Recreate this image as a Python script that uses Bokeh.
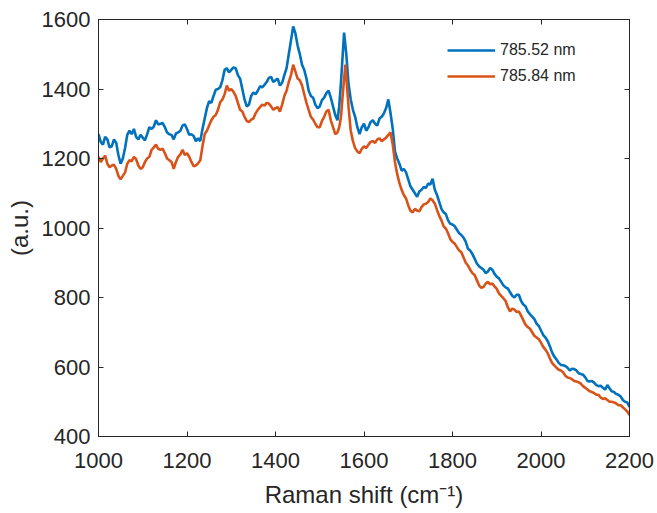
from bokeh.plotting import figure
from bokeh.models import LinearAxis, Legend, LegendItem, Range1d, FixedTicker, ColumnDataSource
from bokeh.embed import file_html
from bokeh.resources import INLINE

# Raman shift (cm^-1) and intensity (a.u.)
# --- 785.52 nm : coarse readings ---
x_52 = [1000, 1010, 1020, 1030, 1040, 1050, 1060, 1070, 1080, 1090,
        1100, 1110, 1120, 1130, 1140, 1150, 1160, 1170, 1180, 1190,
        1200, 1210, 1220, 1230, 1240, 1250, 1260, 1270, 1280, 1290,
        1300, 1310, 1320, 1330, 1340, 1350, 1360, 1370, 1380, 1390,
        1400, 1410, 1420, 1430, 1440, 1450, 1460, 1470, 1480, 1490,
        1500, 1510, 1520, 1530, 1540, 1548, 1555, 1560, 1565, 1570,
        1580, 1590, 1600, 1610, 1620, 1630, 1640, 1650, 1655, 1660,
        1670, 1680, 1690, 1700, 1710, 1720, 1730, 1740, 1750, 1755,
        1760, 1770, 1780, 1790, 1800, 1810, 1820, 1830, 1840, 1850,
        1860, 1870, 1880, 1890, 1900, 1910, 1920, 1930, 1940, 1950,
        1960, 1970, 1980, 1990, 2000, 2010, 2020, 2030, 2040, 2050,
        2060, 2070, 2080, 2090, 2100, 2110, 2120, 2130, 2140, 2150,
        2160, 2170, 2180, 2190, 2200]
y_52 = [1270, 1240, 1255, 1235, 1245, 1185, 1230, 1280, 1285, 1255,
        1260, 1270, 1285, 1310, 1300, 1290, 1270, 1255, 1275, 1295,
        1285, 1270, 1250, 1250, 1315, 1365, 1380, 1400, 1425, 1460,
        1455, 1460, 1430, 1370, 1355, 1390, 1395, 1405, 1420, 1435,
        1425, 1410, 1440, 1500, 1580, 1525, 1470, 1430, 1380, 1355,
        1350, 1375, 1395, 1350, 1310, 1420, 1562, 1500, 1415, 1370,
        1320, 1270, 1300, 1290, 1310, 1295, 1320, 1345, 1370, 1330,
        1220, 1185, 1170, 1140, 1110, 1090, 1110, 1115, 1125, 1142,
        1110, 1075, 1045, 1022, 1010, 995, 980, 960, 935, 912,
        890, 880, 875, 880, 860, 845, 829, 815, 800, 808,
        780, 760, 745, 725, 705, 685, 660, 630, 612, 605,
        598, 595, 590, 580, 570, 558, 555, 545, 540, 548,
        530, 522, 515, 500, 485]
# --- 785.52 nm : in-between readings (noise) ---
x_52b = [1005, 1015, 1025, 1035, 1045, 1055, 1065, 1075, 1085, 1095,
         1105, 1115, 1125, 1135, 1145, 1155, 1165, 1175, 1185, 1195,
         1205, 1215, 1225, 1235, 1245, 1255, 1265, 1275, 1285, 1295,
         1305, 1315, 1325, 1335, 1345, 1355, 1365, 1375, 1385, 1395,
         1405, 1415, 1425, 1435, 1445, 1455, 1465, 1475, 1485, 1495,
         1505, 1515, 1525, 1535, 1544, 1575, 1585, 1595, 1605, 1615,
         1625, 1635, 1645, 1665, 1675, 1685, 1695, 1705, 1715, 1725,
         1735, 1745, 1765, 1775, 1785, 1795, 1805, 1815, 1825, 1835,
         1845, 1855, 1865, 1875, 1885, 1895, 1905, 1915, 1925, 1935,
         1945, 1955, 1965, 1975, 1985, 1995, 2005, 2015, 2025, 2035,
         2045, 2055, 2065, 2075, 2085, 2095, 2105, 2115, 2125, 2135,
         2145, 2155, 2165, 2175, 2185, 2195]
y_52b = [1248, 1262, 1232, 1255, 1210, 1200, 1268, 1270, 1262, 1268,
         1252, 1290, 1292, 1298, 1302, 1275, 1268, 1272, 1280, 1298,
         1268, 1265, 1258, 1285, 1345, 1360, 1398, 1405, 1455, 1448,
         1462, 1440, 1400, 1350, 1380, 1385, 1408, 1412, 1432, 1420,
         1430, 1418, 1460, 1540, 1560, 1500, 1455, 1395, 1375, 1345,
         1368, 1388, 1375, 1325, 1350, 1340, 1290, 1290, 1280, 1305,
         1300, 1315, 1330, 1285, 1200, 1165, 1160, 1120, 1100, 1105,
         1118, 1128, 1095, 1055, 1040, 1012, 1005, 985, 972, 940,
         925, 898, 885, 870, 885, 868, 855, 835, 826, 805,
         808, 790, 775, 752, 738, 718, 692, 675, 642, 622,
         606, 603, 590, 594, 582, 578, 560, 560, 548, 546,
         535, 538, 528, 520, 505, 498]

# --- 785.84 nm : coarse readings ---
x_84 = [1000, 1010, 1020, 1030, 1040, 1050, 1060, 1070, 1080, 1090,
        1100, 1110, 1120, 1130, 1140, 1150, 1160, 1170, 1180, 1190,
        1200, 1210, 1220, 1230, 1240, 1250, 1260, 1270, 1280, 1290,
        1300, 1310, 1320, 1330, 1340, 1350, 1360, 1370, 1380, 1390,
        1400, 1410, 1420, 1430, 1440, 1450, 1460, 1470, 1480, 1490,
        1500, 1510, 1520, 1530, 1540, 1548, 1558, 1565, 1570,
        1580, 1590, 1600, 1610, 1620, 1630, 1640, 1650, 1660,
        1670, 1680, 1690, 1700, 1710, 1720, 1730, 1740, 1750,
        1760, 1770, 1780, 1790, 1800, 1810, 1820, 1830, 1840, 1850,
        1860, 1870, 1880, 1890, 1900, 1910, 1920, 1930, 1940, 1950,
        1960, 1970, 1980, 1990, 2000, 2010, 2020, 2030, 2040, 2050,
        2060, 2070, 2080, 2090, 2100, 2110, 2120, 2130, 2140, 2150,
        2160, 2170, 2180, 2190, 2200]
y_84 = [1205, 1200, 1185, 1180, 1170, 1140, 1160, 1195, 1205, 1180,
        1175, 1200, 1225, 1240, 1225, 1215, 1195, 1170, 1205, 1225,
        1215, 1190, 1180, 1195, 1270, 1295, 1320, 1340, 1370, 1410,
        1400, 1380, 1340, 1320, 1305, 1315, 1340, 1355, 1360, 1350,
        1345, 1335, 1380, 1420, 1470, 1430, 1410, 1360, 1320, 1300,
        1290, 1320, 1340, 1290, 1275, 1320, 1470, 1350, 1280,
        1230, 1215, 1235, 1240, 1250, 1255, 1250, 1260, 1275,
        1190, 1130, 1095, 1065, 1045, 1050, 1060, 1070, 1085,
        1070, 1035, 1005, 985, 960, 945, 930, 900, 880, 865,
        835, 830, 845, 840, 825, 805, 790, 760, 765, 760,
        735, 715, 700, 685, 670, 650, 625, 605, 592, 585,
        570, 565, 558, 552, 540, 530, 525, 520, 508, 505,
        500, 495, 490, 478, 462]
# --- 785.84 nm : in-between readings (noise) ---
x_84b = [1005, 1015, 1025, 1035, 1045, 1055, 1065, 1075, 1085, 1095,
         1105, 1115, 1125, 1135, 1145, 1155, 1165, 1175, 1185, 1195,
         1205, 1215, 1225, 1235, 1245, 1255, 1265, 1275, 1285, 1295,
         1305, 1315, 1325, 1335, 1345, 1355, 1365, 1375, 1385, 1395,
         1405, 1415, 1425, 1435, 1445, 1455, 1465, 1475, 1485, 1495,
         1505, 1515, 1525, 1535, 1544, 1553, 1575, 1585, 1595, 1605,
         1615, 1625, 1635, 1645, 1655, 1665, 1675, 1685, 1695, 1705,
         1715, 1725, 1735, 1745, 1755, 1765, 1775, 1785, 1795, 1805,
         1815, 1825, 1835, 1845, 1855, 1865, 1875, 1885, 1895, 1905,
         1915, 1925, 1935, 1945, 1955, 1965, 1975, 1985, 1995, 2005,
         2015, 2025, 2035, 2045, 2055, 2065, 2075, 2085, 2095, 2105,
         2115, 2125, 2135, 2145, 2155, 2165, 2175, 2185, 2195]
y_84b = [1190, 1208, 1175, 1182, 1150, 1150, 1185, 1192, 1198, 1170,
         1190, 1205, 1232, 1228, 1228, 1200, 1190, 1190, 1212, 1210,
         1205, 1178, 1186, 1235, 1280, 1310, 1325, 1362, 1385, 1395,
         1392, 1360, 1335, 1308, 1312, 1330, 1348, 1352, 1358, 1340,
         1348, 1355, 1395, 1440, 1450, 1425, 1385, 1340, 1312, 1290,
         1308, 1335, 1310, 1270, 1290, 1400, 1250, 1220, 1228, 1230,
         1248, 1245, 1258, 1255, 1268, 1240, 1155, 1110, 1085, 1050,
         1055, 1048, 1068, 1075, 1080, 1052, 1022, 998, 968, 955,
         935, 915, 892, 870, 850, 828, 840, 838, 832, 812,
         798, 772, 768, 758, 748, 722, 710, 690, 680, 658,
         640, 612, 598, 590, 575, 568, 560, 556, 545, 535,
         528, 520, 512, 510, 500, 498, 490, 484, 472]

x_ticks = [1000, 1200, 1400, 1600, 1800, 2000, 2200]
y_ticks = [400, 600, 800, 1000, 1200, 1400, 1600]
series_names = ["785.52 nm", "785.84 nm"]
colors = ["#0072BD", "#D95319"]

FONT = "Liberation Sans"
TXT = "#262626"


def merged(xa, ya, xb, yb):
    pts = sorted(zip(list(xa) + list(xb), list(ya) + list(yb)))
    return ColumnDataSource(data=dict(x=[q[0] for q in pts], y=[q[1] for q in pts]))


p = figure(width=657, height=513, output_backend="svg", toolbar_location=None,
           x_range=Range1d(1000, 2200), y_range=Range1d(400, 1600),
           x_axis_location=None, y_axis_location=None,
           min_border_left=98, min_border_right=28, min_border_top=19,
           min_border_bottom=77)
p.grid.visible = False
p.outline_line_color = TXT
p.outline_line_width = 1

r1 = p.line("x", "y", source=merged(x_52, y_52, x_52b, y_52b),
            line_color=colors[0], line_width=2.6)
r2 = p.line("x", "y", source=merged(x_84, y_84, x_84b, y_84b),
            line_color=colors[1], line_width=2.6)

bottom = LinearAxis(ticker=FixedTicker(ticks=x_ticks))
left = LinearAxis(ticker=FixedTicker(ticks=y_ticks))
top = LinearAxis(ticker=FixedTicker(ticks=x_ticks),
                 major_label_overrides={t: "" for t in x_ticks})
right = LinearAxis(ticker=FixedTicker(ticks=y_ticks),
                   major_label_overrides={t: "" for t in y_ticks})

for ax in (bottom, left, top, right):
    ax.major_tick_in = 5
    ax.major_tick_out = 0
    ax.minor_tick_line_color = None
    ax.axis_line_color = TXT
    ax.major_tick_line_color = TXT
    ax.major_label_text_font = FONT
    ax.major_label_text_color = TXT
    ax.major_label_text_font_size = "22px"
    ax.axis_label_text_font = FONT
    ax.axis_label_text_color = TXT
    ax.axis_label_text_font_style = "normal"
    ax.axis_label_text_font_size = "24px"
for ax in (top, right):
    ax.major_label_standoff = 0

bottom.axis_label = "Raman shift (cm⁻¹)"
bottom.major_label_standoff = 16
bottom.axis_label_standoff = 10
left.axis_label = "(a.u.)"
left.major_label_standoff = 8
left.axis_label_standoff = 6

p.add_layout(bottom, "below")
p.add_layout(left, "left")
p.add_layout(top, "above")
p.add_layout(right, "right")

legend = Legend(items=[LegendItem(label=series_names[0], renderers=[r1]),
                       LegendItem(label=series_names[1], renderers=[r2])],
                location=(349, 350), padding=0, margin=0, spacing=6,
                glyph_width=48, glyph_height=20, label_height=20,
                label_standoff=5, label_text_font=FONT, label_text_color=TXT,
                label_text_font_size="16px", border_line_color=None,
                background_fill_alpha=0)
p.add_layout(legend)

open("out.html", "w").write(file_html(p, INLINE))
